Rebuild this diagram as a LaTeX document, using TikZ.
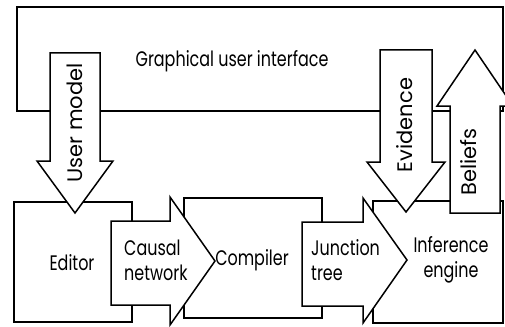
\documentclass[tikz,border=0pt]{standalone}
\usepackage{fontspec}
\setmainfont{Poppins}[FakeStretch=0.76]
\newfontfamily\tallfont{Poppins}
\begin{document}
\begin{tikzpicture}[x=1pt,y=-1pt,
  box/.style={draw,line width=1.5pt,inner sep=0pt},
  fat/.style={draw,fill=white,line width=1.5pt,line join=miter},
  lbl/.style={font=\fontsize{21}{25}\selectfont,inner sep=0pt,align=left},
  vlbl/.style={font=\tallfont\fontsize{21}{25}\selectfont,inner sep=0pt,rotate=90}]
\clip (0,0) rectangle (505,326);

% Boxes
\node[box,minimum width=486pt,minimum height=104pt] (gui) at (260,59) {};
\node[box,minimum width=118pt,minimum height=120pt] (editor) at (73,262) {};
\node[box,minimum width=138pt,minimum height=120pt] (compiler) at (253,258) {};
\node[box,minimum width=130pt,minimum height=122pt] (engine) at (438,262) {};

% Box texts
\node[lbl] (guitext) at (232,61) {Graphical user interface};
\node[lbl] (edtext) at (72,263) {Editor};
\node[lbl] (comptext) at (252,260) {Compiler};
\node[lbl,align=center] (engtext) at (451,260) {Inference\\engine};

% Causal network, editor to compiler
\draw[fat] (111,221) -- (170,221) -- (170,197) -- (215,261) -- (170,325)
  -- (170,305) -- (111,305) -- cycle;
\node[lbl,anchor=west] (causal) at (124,260) {Causal\\network};

% Junction tree, compiler to inference engine
\draw[fat] (302,222) -- (363,222) -- (363,198) -- (407,260) -- (363,323)
  -- (363,306) -- (302,306) -- cycle;
\node[lbl,anchor=west] (junction) at (311,260) {Junction\\tree};

% User model, down from the interface
\draw[fat] (50,53) -- (100,53) -- (100,161) -- (113,161) -- (75,213)
  -- (37,161) -- (50,161) -- cycle;
\node[vlbl] (usermodel) at (75,123) {User model};

% Evidence, down from the interface
\draw[fat] (380,50) -- (432,50) -- (432,162) -- (445,162) -- (406,212)
  -- (367,162) -- (380,162) -- cycle;
\node[vlbl] (evidence) at (405,125) {Evidence};

% Beliefs, up into the interface
\draw[fat] (450,213) -- (500,213) -- (500,106) -- (513,106) -- (475,50)
  -- (437,106) -- (450,106) -- cycle;
\node[vlbl] (beliefs) at (469,162) {Beliefs};
\end{tikzpicture}
\end{document}
